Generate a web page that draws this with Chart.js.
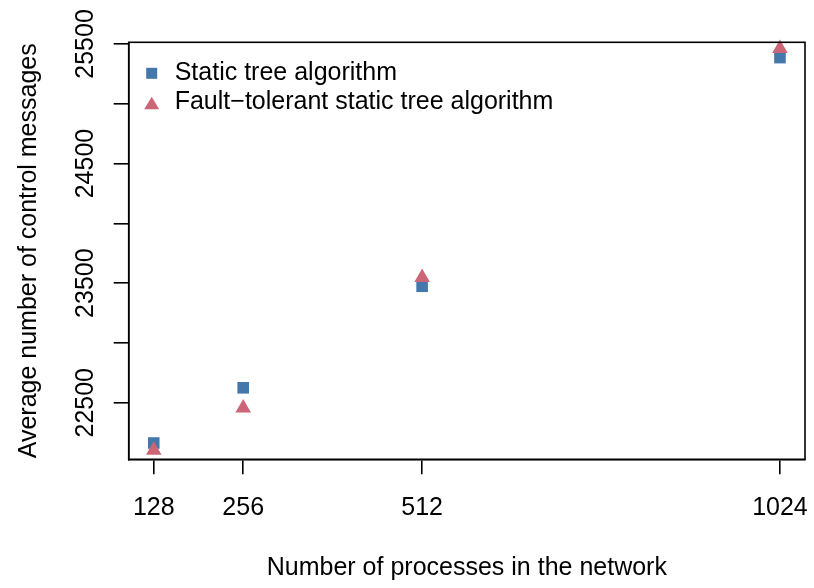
<!DOCTYPE html>
<html lang="en">
<head>
<meta charset="UTF-8">
<title>Control messages</title>
<script src="https://cdn.jsdelivr.net/npm/chart.js@4.4.1/dist/chart.umd.min.js"></script>
<style>
    html, body { margin: 0; padding: 0; background: #fff; }
    #wrap { width: 814px; height: 588px; }
</style>
</head>
<body>
<div id="wrap"><canvas id="myChart"></canvas></div>
<script>
    // data
    const processes = [128, 256, 512, 1024]
    const staticTree = [22163, 22625, 23474, 25386]
    const faultTolerant = [22102, 22457, 23548, 25462]
    const yTicks = [22500, 23000, 23500, 24000, 24500, 25000, 25500]
    const yLabels = ['22500', '', '23500', '', '24500', '', '25500']
    const seriesNames = ['Static tree algorithm', 'Fault\u2212tolerant static tree algorithm']

    const blue = '#4477AA'
    const pink = '#CC6677'
    const font = '"Liberation Sans", Arial, sans-serif'
    const fs = 25

    Chart.defaults.font.family = font
    Chart.defaults.font.size = fs
    Chart.defaults.color = '#000'

    function pts(ys) {
        return processes.map((x, i) => ({ x: x, y: ys[i] }))
    }

    // box, axis labels, titles and legend drawn R style
    const rStyle = {
        id: 'rStyle',
        afterDraw(chart) {
            const ctx = chart.ctx
            const a = chart.chartArea
            const x = chart.scales.x
            const y = chart.scales.y
            ctx.save()
            ctx.strokeStyle = '#000'
            ctx.lineWidth = 1.6
            ctx.strokeRect(a.left, a.top, a.right - a.left, a.bottom - a.top)

            ctx.fillStyle = '#000'
            ctx.font = fs + 'px ' + font
            ctx.textAlign = 'center'

            // x tick labels + title
            ctx.textBaseline = 'middle'
            processes.forEach(v => {
                ctx.fillText(String(v), x.getPixelForValue(v), 508)
            })
            ctx.fillText('Number of processes in the network', (a.left + a.right) / 2, 568)

            // y tick labels + title, rotated
            ctx.textBaseline = 'alphabetic'
            yTicks.forEach((v, i) => {
                if (!yLabels[i]) return
                let py = y.getPixelForValue(v)
                ctx.save()
                ctx.translate(93, py)
                ctx.rotate(-Math.PI / 2)
                ctx.fillText(yLabels[i], 0, 0)
                ctx.restore()
            })
            ctx.save()
            ctx.translate(36, (a.top + a.bottom) / 2)
            ctx.rotate(-Math.PI / 2)
            ctx.fillText('Average number of control messages', 0, 0)
            ctx.restore()

            // legend
            let lx = a.left + 23
            let ly1 = a.top + 31
            let ly2 = a.top + 61
            ctx.fillStyle = blue
            ctx.fillRect(lx - 5.5, ly1 - 5.5, 11, 11)
            ctx.fillStyle = pink
            ctx.beginPath()
            ctx.moveTo(lx, ly2 - 6.5)
            ctx.lineTo(lx + 7.5, ly2 + 6)
            ctx.lineTo(lx - 7.5, ly2 + 6)
            ctx.closePath()
            ctx.fill()
            ctx.fillStyle = '#000'
            ctx.textAlign = 'left'
            ctx.textBaseline = 'middle'
            ctx.fillText(seriesNames[0], lx + 23, ly1)
            ctx.fillText(seriesNames[1], lx + 23, ly2 - 1)
            ctx.restore()
        }
    }

    let ctx = document.getElementById('myChart')
    let chart = new Chart(ctx, {
        type: 'scatter',
        data: {
            datasets: [{
                label: seriesNames[0],
                data: pts(staticTree),
                pointStyle: 'rect',
                pointRadius: 8.2,
                backgroundColor: blue,
                borderWidth: 0,
                clip: false,
                order: 1
            }, {
                label: seriesNames[1],
                data: pts(faultTolerant),
                pointStyle: 'triangle',
                pointRadius: 9,
                backgroundColor: pink,
                borderWidth: 0,
                clip: false,
                order: 0
            }]
        },
        options: {
            responsive: true,
            maintainAspectRatio: false,
            animation: false,
            events: [],
            layout: { padding: { left: 113.7, top: 42.3, right: 8.3, bottom: 113.7 } },
            plugins: {
                legend: { display: false },
                tooltip: { enabled: false }
            },
            scales: {
                x: {
                    type: 'linear',
                    min: 92.16,
                    max: 1059.84,
                    afterBuildTicks: s => { s.ticks = processes.map(v => ({ value: v })) },
                    grid: { drawOnChartArea: false, drawTicks: true, tickLength: 15, color: '#000', lineWidth: 1.6 },
                    border: { display: true, color: '#000', width: 1.6 },
                    ticks: { display: false }
                },
                y: {
                    type: 'linear',
                    min: 22027,
                    max: 25514,
                    afterBuildTicks: s => { s.ticks = yTicks.map(v => ({ value: v })) },
                    grid: { drawOnChartArea: false, drawTicks: true, tickLength: 15, color: '#000', lineWidth: 1.6 },
                    border: { display: true, color: '#000', width: 1.6 },
                    ticks: { display: false }
                }
            }
        },
        plugins: [rStyle]
    })
</script>
</body>
</html>
